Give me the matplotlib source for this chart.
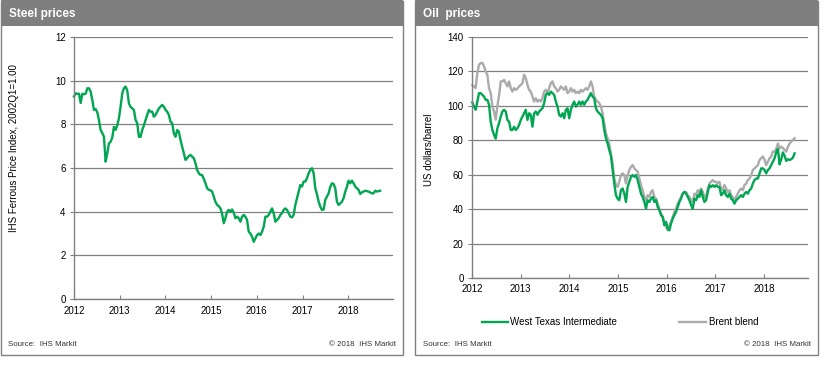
import numpy as np
import matplotlib
matplotlib.use("Agg")
import matplotlib.pyplot as plt
from matplotlib.patches import Rectangle
from matplotlib.lines import Line2D

plt.rcParams['font.family'] = ['Liberation Sans', 'DejaVu Sans']

# ---------------- data ----------------
steel_start, steel_end = 2012.0, 2018.70
steel_values = [
    9.27, 9.42, 9.40, 9.40, 8.98, 9.40, 9.38, 9.40, 9.65, 9.65, 9.50, 9.12, 8.66, 8.70, 8.55, 8.20,
    7.74, 7.60, 7.43, 6.29, 6.67, 7.13, 7.20, 7.40, 7.89, 7.75, 7.95, 8.28, 8.81, 9.42, 9.65, 9.73,
    9.55, 8.96, 8.80, 8.73, 8.66, 8.20, 8.05, 7.43, 7.43, 7.74, 7.95, 8.20, 8.43, 8.66, 8.58, 8.58,
    8.35, 8.43, 8.58, 8.73, 8.81, 8.89, 8.81, 8.66, 8.58, 8.43, 8.12, 8.05, 7.59, 7.43, 7.74, 7.66,
    7.28, 6.98, 6.67, 6.37, 6.45, 6.55, 6.60, 6.52, 6.45, 6.22, 5.91, 5.76, 5.68, 5.68, 5.50, 5.30,
    5.07, 5.00, 4.98, 4.92, 4.69, 4.45, 4.31, 4.25, 4.15, 3.90, 3.47, 3.70, 4.00, 4.08, 4.00, 4.10,
    3.95, 3.70, 3.77, 3.70, 3.54, 3.77, 3.85, 3.77, 3.62, 3.08, 3.00, 2.85, 2.62, 2.77, 2.93, 3.00,
    2.93, 3.08, 3.31, 3.77, 3.77, 3.85, 4.00, 4.15, 3.93, 3.54, 3.62, 3.70, 3.85, 3.93, 4.08, 4.15,
    4.08, 3.93, 3.77, 3.74, 3.85, 4.31, 4.62, 4.92, 5.22, 5.15, 5.38, 5.38, 5.53, 5.76, 5.91, 5.99,
    5.76, 5.07, 4.80, 4.46, 4.23, 4.08, 4.10, 4.54, 4.69, 4.84, 5.14, 5.30, 5.27, 5.07, 4.46, 4.31,
    4.38, 4.46, 4.62, 4.92, 5.14, 5.42, 5.30, 5.42, 5.30, 5.15, 5.07, 5.00, 4.81, 4.88, 4.92, 4.96,
    4.94, 4.92, 4.88, 4.84, 4.84, 4.96, 4.92, 4.94, 4.96,
]

oil_start, oil_end = 2012.007, 2018.625
wti_values = [
    102, 99.6, 97.7, 102.5, 107.4, 107.4, 106.4, 105.4, 103.5, 103.5, 100.6, 90.8, 86, 83.1, 81, 87,
    90, 93.8, 96.7, 97.7, 96.7, 91.8, 90.8, 86, 86, 87.9, 86, 87, 88.9, 91.8, 93.8, 95.7,
    97.7, 91.8, 95.7, 94.8, 87.9, 95.7, 96.7, 94.8, 96.7, 97.7, 98.6, 101.6, 106.4, 107.4, 106.4, 108.3,
    107.4, 106.4, 102.5, 99.6, 94.8, 93.8, 95.7, 92.8, 97.7, 98.6, 92.8, 97.7, 100.6, 102.5, 99.6, 100.6,
    102.5, 100.6, 102.5, 100.6, 102.5, 103.5, 105.4, 107.4, 105.4, 104.4, 98.6, 96.7, 95.7, 94.8, 92.8, 86,
    81.2, 78.2, 74.4, 71, 62.7, 54.9, 48.1, 46.1, 45.2, 51, 52, 49, 44.2, 52.9, 55.9, 58.8,
    59.8, 58.8, 59.8, 56.9, 52.9, 49, 47.1, 44.2, 40.3, 45.2, 44.2, 46.1, 47.1, 44.2, 45.2, 41.3,
    39.4, 36.5, 35.5, 30.6, 32.6, 28.7, 27.7, 31.6, 34.5, 36.5, 38.4, 41.3, 44.2, 46.1, 49, 50,
    49, 47.1, 45.2, 42.3, 40.3, 46.1, 45.2, 48.1, 47.1, 51, 47.1, 44.2, 45.2, 50, 53.9, 52.9,
    53.9, 52.9, 53.9, 52.9, 52.9, 48.1, 49, 51, 48.1, 47.1, 49, 46.1, 45.2, 43.2, 45.2, 46.1,
    47.1, 48.1, 47.1, 49, 50, 49, 51, 52, 54.9, 56.9, 57.8, 57.8, 60.8, 63.7, 63.7, 62.7,
    60.8, 62.7, 63.7, 65.6, 67.6, 69.6, 73, 75, 66, 69, 73, 71, 68, 69, 68.6, 69,
    70, 72.4,
]
brent_values = [
    112, 111.3, 110.3, 119.1, 123.9, 124.9, 124.9, 123, 120, 118, 110.3, 107.4, 99.6, 96.7, 92, 100,
    106, 114.2, 114.2, 115.1, 113.2, 111.3, 114.2, 110.3, 108.3, 110.3, 109.3, 110, 111.3, 112.2, 113.2, 118.1,
    116.1, 112.2, 109.3, 108.3, 105.4, 102.5, 104.4, 102.5, 103.5, 102.5, 104.4, 108.3, 109.3, 107.4, 110.3, 113.2,
    114.2, 111.3, 110.3, 108.3, 109.3, 111.3, 110.3, 109.3, 111.3, 107.4, 108.3, 110.3, 108.3, 109.3, 107.4, 108.3,
    107.4, 109.3, 108.3, 109.3, 110.3, 109.3, 111.3, 114.2, 111.3, 105.4, 103.5, 102.5, 101.6, 99.6, 95.7, 89.9,
    84.1, 81.2, 78.2, 72, 66.6, 57.8, 54, 52.9, 55.9, 59.8, 60.8, 59.8, 54.9, 59.8, 62.7, 64.6,
    65.6, 63.7, 62.7, 61.8, 57.8, 54, 51, 47.1, 45.2, 48.1, 47.1, 50, 51, 47.1, 46.1, 43.2,
    40.3, 37.4, 35.5, 32.6, 29.7, 27.7, 30.6, 32.6, 35.5, 38.4, 40.3, 43.2, 45.2, 47.1, 49, 50,
    50, 48.1, 47.1, 45.2, 44.2, 49, 48.1, 51, 49, 52, 50, 47.1, 47.1, 52, 54.9, 55.9,
    56.9, 55.9, 55.9, 54.9, 55.9, 51, 52, 54, 52, 50, 51, 48.1, 47.1, 45.2, 47.1, 49,
    51, 52, 51, 54, 54.9, 56.9, 57.8, 59.8, 62.7, 63.7, 64.6, 65.6, 68.6, 69.6, 70.6, 68.6,
    65.6, 67.6, 69.6, 70.6, 73.5, 73.4, 75, 78.2, 75.3, 76.3, 75.5, 74.4, 73.4, 76.3, 78.2, 79.2,
    80.2, 81.2,
]

year_ticks = [2012, 2013, 2014, 2015, 2016, 2017, 2018]
steel_yticks = [0, 2, 4, 6, 8, 10, 12]
oil_yticks = [0, 20, 40, 60, 80, 100, 120, 140]

GREEN = '#00A651'
GRAY = '#ABABAB'
DARK = '#808080'

W, H = 827, 369
fig = plt.figure(figsize=(W / 100, H / 100), dpi=100)


def px(x, y):
    return x / W, 1 - y / H


def panel(x0, x1, title):
    # frame
    fig.patches.append(Rectangle(px(x0, 355), (x1 - x0) / W, 354 / H, transform=fig.transFigure,
                                 facecolor='none', edgecolor=DARK, lw=1.0, zorder=-2))
    # title bar
    fig.patches.append(Rectangle(px(x0, 26), (x1 - x0) / W, 26 / H, transform=fig.transFigure,
                                 facecolor='#7F7F7F', edgecolor='none', zorder=-1))
    fig.text(*px(x0 + 8, 13.5), title, color='white', fontsize=8.5, fontweight='bold',
             va='center', ha='left')


def style_axes(ax, yticks, ylabel, xpad):
    ax.set_facecolor('none')
    for s in ['top', 'right']:
        ax.spines[s].set_visible(False)
    for s in ['left', 'bottom']:
        ax.spines[s].set_color(DARK)
        ax.spines[s].set_linewidth(1.0)
    ax.set_yticks(yticks)
    ax.set_ylim(yticks[0], yticks[-1])
    ax.set_xticks(year_ticks)
    ax.set_xticklabels([str(y) for y in year_ticks])
    ax.yaxis.grid(True, color=DARK, lw=0.9)
    ax.set_axisbelow(True)
    ax.tick_params(axis='y', direction='out', length=3, color=DARK, labelsize=7, pad=3)
    ax.tick_params(axis='x', direction='in', length=3, color=DARK, labelsize=7, pad=xpad)
    ax.set_ylabel(ylabel, fontsize=7)


# ---------------- left panel ----------------
panel(1, 403, 'Steel prices')
axL = fig.add_axes([74 / W, 1 - 299 / H, 319 / W, 262 / H])
style_axes(axL, steel_yticks, 'IHS Ferrous Price Index, 2002Q1=1.00', 5)
steel_t = np.linspace(steel_start, steel_end, len(steel_values))
axL.plot(steel_t, steel_values, color=GREEN, lw=1.7, clip_on=False)
axL.set_xlim(2012, 2018.98)
axL.yaxis.set_label_coords(-0.172, 0.575)
fig.text(*px(8, 344), 'Source:  IHS Markit', fontsize=5.7, va='center', ha='left', color='#333333')
fig.text(*px(396, 344), '\u00a9 2018  IHS Markit', fontsize=5.7, va='center', ha='right', color='#333333')

# ---------------- right panel ----------------
panel(415, 818, 'Oil  prices')
axR = fig.add_axes([472 / W, 1 - 278 / H, 336 / W, 241 / H])
style_axes(axR, oil_yticks, 'US dollars/barrel', 4)
oil_t = np.linspace(oil_start, oil_end, len(wti_values))
axR.plot(oil_t, brent_values, color=GRAY, lw=1.7, label='Brent blend', clip_on=False)
axR.plot(oil_t, wti_values, color=GREEN, lw=1.7, label='West Texas Intermediate', clip_on=False)
axR.set_xlim(2012, 2018.9)
axR.yaxis.set_label_coords(-0.112, 0.53)

# legend
fig.lines.append(Line2D([482 / W, 508 / W], [1 - 322 / H] * 2, transform=fig.transFigure,
                        color=GREEN, lw=1.7))
fig.text(*px(510, 322), 'West Texas Intermediate', fontsize=7, va='center', ha='left')
fig.lines.append(Line2D([679 / W, 706 / W], [1 - 322 / H] * 2, transform=fig.transFigure,
                        color=GRAY, lw=1.7))
fig.text(*px(709, 322), 'Brent blend', fontsize=7, va='center', ha='left')

fig.text(*px(423, 344), 'Source:  IHS Markit', fontsize=5.7, va='center', ha='left', color='#333333')
fig.text(*px(811, 344), '\u00a9 2018  IHS Markit', fontsize=5.7, va='center', ha='right', color='#333333')

fig.savefig('out.png', dpi=100)
